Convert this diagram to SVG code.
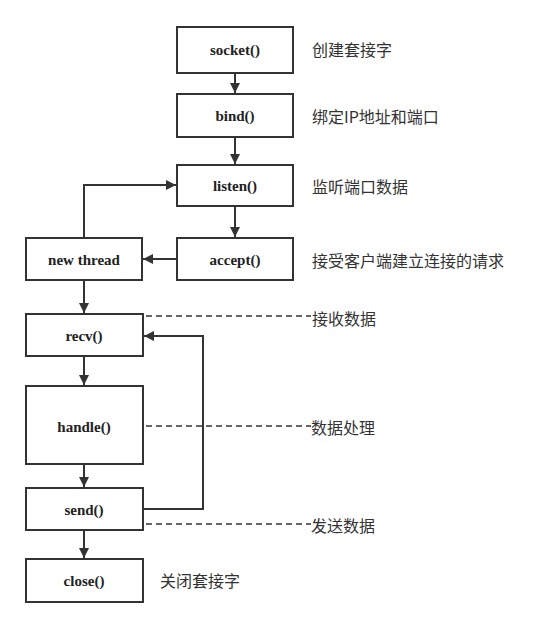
<svg xmlns="http://www.w3.org/2000/svg" width="542" height="628" viewBox="0 0 542 628">
<style>
.box{fill:#fff;stroke:#333;stroke-width:2}
.t{font-family:"Liberation Serif",serif;font-weight:bold;font-size:15px;fill:#222;text-anchor:middle;dominant-baseline:central}
.c{font-family:"Noto Sans CJK SC",sans-serif;font-size:16px;fill:#333;dominant-baseline:central}
.ln{fill:none;stroke:#333;stroke-width:2}
.dl{fill:none;stroke:#333;stroke-width:1.5;stroke-dasharray:6,4}
</style>
<defs>
<marker id="ah" viewBox="0 0 10 10" refX="10" refY="5" markerWidth="10" markerHeight="10" markerUnits="userSpaceOnUse" orient="auto">
<path d="M0,0 L10,5 L0,10 z" fill="#333"/>
</marker>
</defs>
<rect width="542" height="628" fill="#fff"/>
<g id="connectors">
<line class="ln" x1="235" y1="73" x2="235" y2="93" marker-end="url(#ah)"/>
<line class="ln" x1="235" y1="137" x2="235" y2="164" marker-end="url(#ah)"/>
<line class="ln" x1="235" y1="206" x2="235" y2="237" marker-end="url(#ah)"/>
<line class="ln" x1="177" y1="259" x2="143" y2="259" marker-end="url(#ah)"/>
<polyline class="ln" points="84,238 84,185 176,185" marker-end="url(#ah)"/>
<line class="ln" x1="84" y1="280" x2="84" y2="313" marker-end="url(#ah)"/>
<line class="ln" x1="84" y1="356" x2="84" y2="385" marker-end="url(#ah)"/>
<line class="ln" x1="84" y1="464" x2="84" y2="487" marker-end="url(#ah)"/>
<line class="ln" x1="84" y1="530" x2="84" y2="558" marker-end="url(#ah)"/>
<polyline class="ln" points="143,509 203,509 203,336 144,336" marker-end="url(#ah)"/>
<line class="dl" x1="146" y1="316" x2="311" y2="316"/>
<line class="dl" x1="146" y1="426" x2="311" y2="426"/>
<line class="dl" x1="146" y1="524" x2="311" y2="524"/>
</g>
<g id="socket"><rect class="box" x="177" y="27" width="116" height="46"/><text class="t" x="235" y="50">socket()</text><text class="c" x="312" y="49">创建套接字</text></g>
<g id="bind"><rect class="box" x="177" y="94" width="116" height="43"/><text class="t" x="235" y="116">bind()</text><text class="c" x="312" y="116">绑定IP地址和端口</text></g>
<g id="listen"><rect class="box" x="177" y="165" width="116" height="41"/><text class="t" x="235" y="186">listen()</text><text class="c" x="312" y="186">监听端口数据</text></g>
<g id="accept"><rect class="box" x="177" y="238" width="116" height="42"/><text class="t" x="235" y="260">accept()</text><text class="c" x="312" y="260">接受客户端建立连接的请求</text></g>
<g id="newthread"><rect class="box" x="26" y="238" width="116" height="42"/><text class="t" x="84" y="260">new thread</text></g>
<g id="recv"><rect class="box" x="26" y="314" width="117" height="42"/><text class="t" x="84" y="336">recv()</text><text class="c" x="312" y="318">接收数据</text></g>
<g id="handle"><rect class="box" x="26" y="386" width="117" height="78"/><text class="t" x="84" y="427">handle()</text><text class="c" x="311" y="427">数据处理</text></g>
<g id="send"><rect class="box" x="26" y="488" width="117" height="42"/><text class="t" x="84" y="510">send()</text><text class="c" x="311" y="525">发送数据</text></g>
<g id="close"><rect class="box" x="26" y="559" width="117" height="43"/><text class="t" x="84" y="581">close()</text><text class="c" x="160" y="580">关闭套接字</text></g>
</svg>
